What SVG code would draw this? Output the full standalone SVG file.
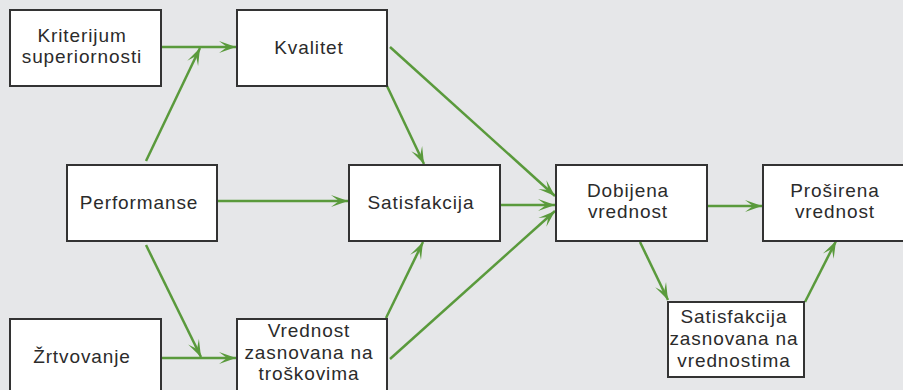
<svg xmlns="http://www.w3.org/2000/svg" width="903" height="390" viewBox="0 0 903 390">
<defs>
<marker id="ah" viewBox="-18 -7 19 14" markerWidth="19" markerHeight="14" refX="0" refY="0" orient="auto" markerUnits="userSpaceOnUse">
<path d="M0,0 L-17,-6 L-9,0 L-17,6 Z" fill="#5a9a3c"/>
</marker>
</defs>
<style>
.box{fill:#fff;stroke:#333;stroke-width:2}
.t{font-family:"Liberation Sans",Arial,sans-serif;font-size:19px;letter-spacing:0.9px;fill:#2b2b2b;text-anchor:middle}
.c{stroke:#5a9a3c;stroke-width:2.5;fill:none;marker-end:url(#ah)}
.n{stroke:#5a9a3c;stroke-width:2.5;fill:none}
</style>
<rect width="903" height="390" fill="#e6e7e9"/>
<g id="connectors">
<line class="c" x1="161" y1="47" x2="236" y2="47"/>
<line class="c" x1="146" y1="161" x2="200" y2="48"/>
<line class="c" x1="217" y1="201" x2="348" y2="201"/>
<line class="c" x1="146" y1="245" x2="201" y2="357"/>
<line class="c" x1="161" y1="358" x2="236" y2="358"/>
<line class="c" x1="387" y1="86" x2="424" y2="164"/>
<line class="c" x1="390" y1="47" x2="555" y2="196"/>
<line class="c" x1="500" y1="205" x2="555" y2="205"/>
<line class="c" x1="386" y1="318" x2="423" y2="242"/>
<line class="c" x1="390" y1="359" x2="555" y2="211"/>
<line class="c" x1="707" y1="206" x2="762" y2="206"/>
<line class="c" x1="640" y1="242" x2="668" y2="300"/>
<line class="c" x1="805" y1="302" x2="836" y2="241"/>
</g>
<g id="kriterijum">
<rect class="box" x="10" y="10" width="151" height="76"/>
<text class="t" x="82" y="42">Kriterijum</text>
<text class="t" x="82" y="63">superiornosti</text>
</g>
<g id="kvalitet">
<rect class="box" x="237" y="10" width="150" height="76"/>
<text class="t" x="309" y="54">Kvalitet</text>
</g>
<g id="performanse">
<rect class="box" x="67" y="165" width="150" height="76"/>
<text class="t" x="139" y="209">Performanse</text>
</g>
<g id="satisfakcija">
<rect class="box" x="349" y="165" width="151" height="76"/>
<text class="t" x="421" y="209">Satisfakcija</text>
</g>
<g id="dobijena">
<rect class="box" x="556" y="165" width="151" height="76"/>
<text class="t" x="628" y="197">Dobijena</text>
<text class="t" x="628" y="218">vrednost</text>
</g>
<g id="prosirena">
<rect class="box" x="763" y="165" width="150" height="76"/>
<text class="t" x="835" y="197">Proširena</text>
<text class="t" x="835" y="218">vrednost</text>
</g>
<g id="satisfakcija-vrednosti">
<rect class="box" x="668" y="302" width="136" height="75"/>
<text class="t" x="734" y="323">Satisfakcija</text>
<text class="t" x="734" y="345">zasnovana na</text>
<text class="t" x="734" y="367">vrednostima</text>
</g>
<g id="zrtvovanje">
<rect class="box" x="10" y="319" width="151" height="80"/>
<text class="t" x="82" y="363">Žrtvovanje</text>
</g>
<g id="vrednost-troskovi">
<rect class="box" x="237" y="319" width="150" height="80"/>
<text class="t" x="309" y="337">Vrednost</text>
<text class="t" x="309" y="359">zasnovana na</text>
<text class="t" x="309" y="380">troškovima</text>
</g>
</svg>
